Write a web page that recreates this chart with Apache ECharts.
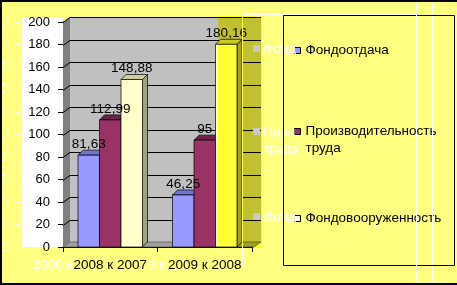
<!DOCTYPE html>
<html><head><meta charset="utf-8">
<script src="https://cdn.jsdelivr.net/npm/echarts@6/dist/echarts.min.js"></script>
<style>html,body{margin:0;padding:0;background:#FFFF80}#c{width:457px;height:285px}</style>
</head><body><div id="c"></div>
<script>
// ---- data ----
const categories = ['2008 к 2007', '2009 к 2008'];
const fondootdacha = [81.63, 46.25];
const proizvoditelnost = [112.99, 95];
const fondovooruzhennost = [148.88, 180.16];
const seriesNames = ['Фондоотдача', 'Производительность труда', 'Фондовооруженность'];
const yTicks = [0, 20, 40, 60, 80, 100, 120, 140, 160, 180, 200];
const ghostLegendTexts = ['Фонд', 'Прои', 'труда', 'Фонд'];
const ghostXTexts = ['2006 к', '9 к'];

const FONT = 'Liberation Sans, Arial, sans-serif';
const FS = 13.5;
const colors = ['#9999FF', '#993366', '#FFFFCC'];
const topColors = ['#7474D2', '#6E2449', '#CCCC9E'];
const sideColors = ['#6666AA', '#551A38', '#A3A383'];
const seriesData = [fondootdacha, proizvoditelnost, fondovooruzhennost];
const BW = 21.5, D = 5;

const chart = echarts.init(document.getElementById('c'), null, {renderer: 'canvas'});

function fmt(v) { return String(v).replace('.', ','); }

function wallsRender(params, api) {
  const cs = params.coordSys;
  const x0 = cs.x, y0 = cs.y, w = cs.width, h = cs.height;
  const dx = 7, dy = -5;
  const children = [];
  children.push({type: 'rect', shape: {x: x0 + dx, y: y0 + dy, width: w + 2, height: h}, style: {fill: '#C0C0C0'}});
  children.push({type: 'polygon', shape: {points: [[x0, y0], [x0 + dx, y0 + dy], [x0 + dx, y0 + h + dy], [x0, y0 + h]]}, style: {fill: '#808080'}});
  children.push({type: 'polygon', shape: {points: [[x0, y0 + h], [x0 + dx, y0 + h + dy], [x0 + w + dx + 2, y0 + h + dy], [x0 + w + 2, y0 + h]]}, style: {fill: '#A0A0A0', stroke: '#404040', lineWidth: 0.6}});
  yTicks.forEach(function (v) {
    if (v === 0) return;
    const y = Math.round(api.coord([0, v])[1]) + 0.5;
    children.push({type: 'polyline', shape: {points: [[x0, y], [x0 + dx, y + dy], [x0 + w + dx + 2, y + dy]]}, style: {stroke: '#000', lineWidth: 1, fill: null}});
  });
  return {type: 'group', children: children};
}

function barGeom(i, api) {
  const cat = api.value(0), val = api.value(1);
  const c = api.coord([cat, val]);
  const base = api.coord([cat, 0]);
  const cx = c[0] + (i - 1) * BW;
  return {val: val, cx: cx, l: cx - BW / 2, r: cx + BW / 2, t: c[1], b: base[1]};
}

function barRender(i) {
  return function (params, api) {
    const g = barGeom(i, api);
    const l = g.l, r = g.r, t = g.t, b = g.b, d = D;
    const st = {stroke: '#000', lineWidth: 0.7};
    return {type: 'group', children: [
      {type: 'polygon', shape: {points: [[r, t], [r + d, t - d], [r + d, b - d], [r, b]]}, style: Object.assign({fill: sideColors[i]}, st)},
      {type: 'polygon', shape: {points: [[l, t], [l + d, t - d], [r + d, t - d], [r, t]]}, style: Object.assign({fill: topColors[i]}, st)},
      {type: 'rect', shape: {x: l, y: t, width: BW, height: b - t}, style: Object.assign({fill: colors[i]}, st)}
    ]};
  };
}

function labelRender(i) {
  return function (params, api) {
    const g = barGeom(i, api);
    return {type: 'text', style: {text: fmt(g.val), x: g.cx, y: g.t - 4, align: 'center', verticalAlign: 'bottom', font: FS + 'px ' + FONT, fill: '#000'}};
  };
}

const series = [{
  type: 'custom', name: 'walls', renderItem: wallsRender, data: [[0, 0]], z: 1, silent: true, encode: {x: 0, y: 1}
}];
seriesNames.forEach(function (n, i) {
  series.push({
    type: 'custom', name: n, renderItem: barRender(i), z: 3 + i,
    itemStyle: {color: colors[i], borderColor: '#000', borderWidth: 1},
    data: seriesData[i].map(function (v, k) { return [k, v]; }),
    encode: {x: 0, y: 1}
  });
});
seriesNames.forEach(function (n, i) {
  series.push({
    type: 'custom', name: 'label_' + i, renderItem: labelRender(i), z: 20, silent: true,
    data: seriesData[i].map(function (v, k) { return [k, v]; }),
    encode: {x: 0, y: 1}
  });
});

const legendBase = {
  orient: 'vertical', left: 294, padding: 0, icon: 'rect', itemWidth: 6, itemHeight: 6,
  itemStyle: {borderColor: '#000', borderWidth: 1},
  textStyle: {fontSize: FS, fontFamily: FONT, color: '#000', lineHeight: 17},
  selectedMode: false
};

const option = {
  backgroundColor: '#FFFF80',
  animation: false,
  grid: {left: 63, top: 22, width: 189, height: 225, containLabel: false, outerBoundsMode: 'none'},
  xAxis: {
    type: 'category', data: categories,
    axisLine: {lineStyle: {color: '#000', width: 1}},
    axisTick: {show: true, length: 5, lineStyle: {color: '#000'}},
    axisLabel: {fontSize: FS, fontFamily: FONT, color: '#000', margin: 11, interval: 0, hideOverlap: false}
  },
  yAxis: [{
    type: 'value', min: 0, max: 200, interval: 20,
    axisLine: {show: true, lineStyle: {color: '#000', type: [2, 2], width: 1}},
    axisTick: {show: true, length: 5, lineStyle: {color: '#000'}},
    axisLabel: {fontSize: 13, fontFamily: FONT, color: '#000', margin: 13},
    splitLine: {show: false}
  }, {
    type: 'value', min: 0, max: 200, interval: 20, position: 'left', offset: 43,
    axisLine: {show: false},
    axisTick: {show: true, length: 5, lineStyle: {color: '#fff'}},
    axisLabel: {fontSize: 13, fontFamily: FONT, color: '#fff', margin: 13},
    splitLine: {show: false}
  }],
  legend: [
    Object.assign({}, legendBase, {top: 42, data: [seriesNames[0]]}),
    Object.assign({}, legendBase, {top: 106, data: [seriesNames[1]],
      formatter: function () { return ' \nПроизводительность\nтруда'; }}),
    Object.assign({}, legendBase, {top: 210, data: [seriesNames[2]]})
  ],
  series: series,
  graphic: [
    {type: 'rect', z: -10, shape: {x: 22, y: 17, width: 41, height: 230}, style: {fill: '#fff'}},
    // ghost lines
    {type: 'rect', z: 40, shape: {x: 242.5, y: 14.5, width: 174, height: 251}, style: {fill: null, stroke: '#fff', lineWidth: 1}},
    {type: 'line', z: 40, shape: {x1: 432.5, y1: 0, x2: 432.5, y2: 285}, style: {stroke: '#fff', lineWidth: 1}},
    // multiply overlay
    {type: 'rect', z: 50, shape: {x: 218, y: 16, width: 44, height: 232}, style: {fill: '#FFFF40', blend: 'multiply'}},
    // ghost legend markers and texts
    {type: 'rect', z: 60, shape: {x: 253, y: 45, width: 7, height: 7}, style: {fill: '#C8C8C8'}},
    {type: 'rect', z: 60, shape: {x: 253, y: 128, width: 7, height: 7}, style: {fill: '#C8C8C8'}},
    {type: 'rect', z: 60, shape: {x: 253, y: 213, width: 7, height: 7}, style: {fill: '#C8C8C8'}},
    {type: 'text', z: 60, style: {text: ghostLegendTexts[0], x: 263, y: 49, verticalAlign: 'middle', font: FS + 'px ' + FONT, fill: '#fff'}},
    {type: 'text', z: 60, style: {text: ghostLegendTexts[1], x: 263, y: 132, verticalAlign: 'middle', font: FS + 'px ' + FONT, fill: '#fff'}},
    {type: 'text', z: 60, style: {text: ghostLegendTexts[2], x: 263, y: 149, verticalAlign: 'middle', font: FS + 'px ' + FONT, fill: '#fff'}},
    {type: 'text', z: 60, style: {text: ghostLegendTexts[3], x: 263, y: 217, verticalAlign: 'middle', font: FS + 'px ' + FONT, fill: '#fff'}},
    {type: 'text', z: -5, style: {text: ghostXTexts[0], x: 33, y: 265, verticalAlign: 'middle', font: FS + 'px ' + FONT, fill: '#fff'}},
    {type: 'text', z: -5, style: {text: ghostXTexts[1], x: 148, y: 265, verticalAlign: 'middle', font: FS + 'px ' + FONT, fill: '#fff'}},
    // legend box
    {type: 'rect', z: 70, shape: {x: 283.5, y: 15.5, width: 171, height: 250}, style: {fill: null, stroke: '#000', lineWidth: 1}},
    // outer border
    {type: 'rect', z: 100, shape: {x: 0, y: 0, width: 457, height: 2}, style: {fill: '#000'}},
    {type: 'rect', z: 100, shape: {x: 0, y: 0, width: 2, height: 285}, style: {fill: '#000'}},
    {type: 'rect', z: 100, shape: {x: 0, y: 283, width: 457, height: 2}, style: {fill: '#000'}},
    {type: 'line', z: 100, shape: {x1: 416.5, y1: 2, x2: 416.5, y2: 283}, style: {stroke: '#fff', lineWidth: 1}}
  ]
};
chart.setOption(option);
</script></body></html>
